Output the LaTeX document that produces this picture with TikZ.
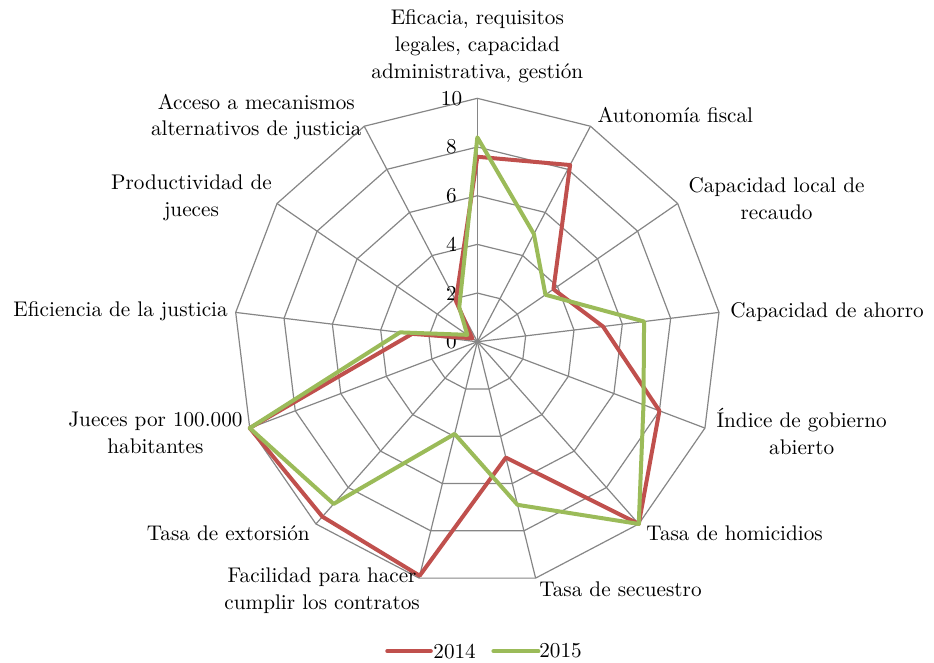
\documentclass[tikz,border=0pt]{standalone}
\definecolor{rojo}{HTML}{C0504D}
\definecolor{verde}{HTML}{9BBB59}
\definecolor{rejilla}{HTML}{868686}

\begin{document}
\begin{tikzpicture}[x=12.17pt,y=12.17pt,
	rejillaline/.style={draw=rejilla,line width=0.6pt},
	serie14/.style={draw=rojo,line width=2pt,line join=round},
	serie15/.style={draw=verde,line width=2pt,line join=round},
	eje/.style={inner sep=0pt,align=center,font=\fontsize{10.6}{13.4}\selectfont},
	marca/.style={inner sep=0pt,font=\fontsize{10.6}{13.4}\selectfont}]
	\useasboundingbox (-19.61,-13.16) rectangle (18.76,14.04);
	% rejilla: anillos y radios
	\foreach \r in {2,4,6,8,10}
		\draw[rejillaline] (90:\r) \foreach \k in {1,...,12} { -- ({90-\k*360/13}:\r) } -- cycle;
	\foreach \k in {0,...,12}
		\draw[rejillaline] (0,0) -- ({90-\k*360/13}:10);
	% escala
	\node[marca] (m0) at (-1.06,0) {0};
	\node[marca] (m2) at (-1.06,2) {2};
	\node[marca] (m4) at (-1.06,4) {4};
	\node[marca] (m6) at (-1.06,6) {6};
	\node[marca] (m8) at (-1.06,8) {8};
	\node[marca] (m10) at (-1.06,10) {10};
	% series
	\draw[serie14] (90:7.6) -- (62.31:8.2) -- (34.62:3.8) -- (6.92:5.2) -- (-20.77:8.0) -- (-48.46:10) -- (-76.15:4.9) -- (-103.85:9.9) -- (-131.54:9.6) -- (-159.23:10) -- (-186.92:2.7) -- (-214.62:0.25) -- (-242.31:1.9) -- cycle;
	\draw[serie15] (90:8.4) -- (62.31:5.0) -- (34.62:3.4) -- (6.92:6.9) -- (-20.77:7.3) -- (-48.46:10) -- (-76.15:6.9) -- (-103.85:3.9) -- (-131.54:8.9) -- (-159.23:10) -- (-186.92:3.2) -- (-214.62:0.5) -- (-242.31:1.6) -- cycle;
	% etiquetas de los ejes
	\node[eje] (eficacia) at (0,12.15) {Eficacia, requisitos\\legales, capacidad\\administrativa, gestión};
	\node[eje,anchor=west] (autonomia) at (4.92,9.31) {Autonomía fiscal};
	\node[eje,anchor=west] (recaudo) at (8.66,5.88) {Capacidad local de\\recaudo};
	\node[eje,anchor=west] (ahorro) at (10.38,1.22) {Capacidad de ahorro};
	\node[eje,anchor=west] (gobierno) at (9.81,-3.69) {Índice de gobierno\\abierto};
	\node[eje,anchor=west] (homicidios) at (6.93,-7.86) {Tasa de homicidios};
	\node[eje,anchor=west] (secuestro) at (2.53,-10.16) {Tasa de secuestro};
	\node[eje,anchor=east] (contratos) at (-2.35,-10.24) {Facilidad para hacer\\cumplir los contratos};
	\node[eje,anchor=east] (extorsion) at (-6.87,-7.86) {Tasa de extorsión};
	\node[eje,anchor=east] (jueces) at (-9.63,-3.73) {Jueces por 100.000\\habitantes};
	\node[eje,anchor=east] (eficiencia) at (-10.24,1.26) {Eficiencia de la justicia};
	\node[eje,anchor=east] (productividad) at (-8.43,5.90) {Productividad de\\jueces};
	\node[eje,anchor=east] (acceso) at (-4.74,9.23) {Acceso a mecanismos\\alternativos de justicia};
	% leyenda
	\coordinate (l14a) at (-3.70,-12.71);
	\coordinate (l14b) at (-1.91,-12.71);
	\coordinate (l15a) at (0.66,-12.71);
	\coordinate (l15b) at (2.51,-12.71);
	\draw[serie14,line cap=round] (l14a) -- (l14b);
	\node[marca,anchor=west] (a2014) at (-1.82,-12.71) {2014};
	\draw[serie15,line cap=round] (l15a) -- (l15b);
	\node[marca,anchor=west] (a2015) at (2.53,-12.71) {2015};
\end{tikzpicture}
\end{document}
